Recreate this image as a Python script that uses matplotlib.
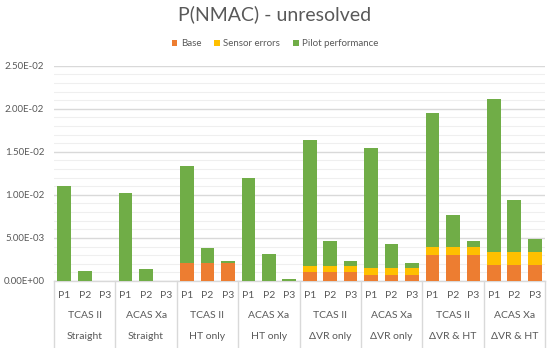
import matplotlib
matplotlib.use("Agg")
import matplotlib.pyplot as plt
from matplotlib.transforms import blended_transform_factory
from matplotlib.ticker import MultipleLocator, FuncFormatter
import numpy as np

plt.rcParams['font.family'] = ['Lato', 'DejaVu Sans']

periods = ["P1", "P2", "P3"]
systems = ["TCAS II", "ACAS Xa", "TCAS II", "ACAS Xa", "TCAS II", "ACAS Xa", "TCAS II", "ACAS Xa"]
scenarios = ["Straight", "Straight", "HT only", "HT only", "ΔVR only", "ΔVR only", "ΔVR & HT", "ΔVR & HT"]

base = [0, 0, 0,
        0, 0, 0,
        2.05e-3, 2.05e-3, 2.05e-3,
        0, 0, 0,
        1.01e-3, 1.01e-3, 1.01e-3,
        0.66e-3, 0.66e-3, 0.66e-3,
        3.06e-3, 3.06e-3, 3.06e-3,
        1.90e-3, 1.90e-3, 1.90e-3]
sensor = [0, 0, 0,
          0, 0, 0,
          0, 0, 0,
          0, 0, 0,
          0.77e-3, 0.77e-3, 0.77e-3,
          0.89e-3, 0.89e-3, 0.89e-3,
          0.85e-3, 0.85e-3, 0.85e-3,
          1.51e-3, 1.51e-3, 1.51e-3]
pilot = [11.08e-3, 1.16e-3, 0,
         10.27e-3, 1.40e-3, 0,
         11.35e-3, 1.82e-3, 0.28e-3,
         11.94e-3, 3.14e-3, 0.27e-3,
         14.58e-3, 2.87e-3, 0.58e-3,
         13.88e-3, 2.75e-3, 0.54e-3,
         15.62e-3, 3.72e-3, 0.70e-3,
         17.71e-3, 6.05e-3, 1.47e-3]

c_base = "#ED7D31"
c_sensor = "#FFC000"
c_pilot = "#70AD47"
txt = "#595959"

fig = plt.figure(figsize=(5.5, 3.48), dpi=100)
W, H = 550, 348
ax = fig.add_axes([54 / W, 1 - 281 / H, (545 - 54) / W, (281 - 65.7) / H])

n = len(base)
x = np.arange(n)
b = np.array(base)
s = np.array(sensor)
p = np.array(pilot)
bw = 0.67
ax.bar(x, b, bw, color=c_base, label="Base", zorder=3)
ax.bar(x, s, bw, bottom=b, color=c_sensor, label="Sensor errors", zorder=3)
ax.bar(x, p, bw, bottom=b + s, color=c_pilot, label="Pilot performance", zorder=3)

ax.set_xlim(-0.5, n - 0.5)
ax.set_ylim(0, 0.025)
ax.yaxis.set_major_locator(MultipleLocator(0.005))
ax.yaxis.set_minor_locator(MultipleLocator(0.001))
ax.yaxis.set_major_formatter(FuncFormatter(lambda v, pos: f"{v:.2E}"))
ax.grid(axis='y', which='major', color='#d9d9d9', linewidth=1.0, zorder=0)
ax.grid(axis='y', which='minor', color='#efefef', linewidth=0.8, zorder=0)
ax.tick_params(axis='y', which='both', length=0, labelsize=7.0, labelcolor=txt, pad=7)
ax.tick_params(axis='x', which='both', length=0, labelbottom=False)
for sp in ['top', 'right', 'left']:
    ax.spines[sp].set_visible(False)
ax.spines['bottom'].set_color('#d9d9d9')
ax.spines['bottom'].set_linewidth(1.0)

trans = blended_transform_factory(ax.transData, fig.transFigure)
for i in range(n):
    ax.text(i, 1 - 295 / H, periods[i % 3], transform=trans, ha='center', va='center',
            fontsize=7.5, color=txt)
for g in range(len(systems)):
    cx = 3 * g + 1
    ax.text(cx, 1 - 315.5 / H, systems[g], transform=trans, ha='center', va='center',
            fontsize=7.5, color=txt)
    ax.text(cx, 1 - 336.5 / H, scenarios[g], transform=trans, ha='center', va='center',
            fontsize=7.5, color=txt)
for g in range(len(systems) + 1):
    xs = 3 * g - 0.5
    ax.plot([xs, xs], [1 - 281 / H, 0], transform=trans, color='#d9d9d9',
            linewidth=1.0, clip_on=False)

fig.text(0.5, 1 - 14.5 / H, "P(NMAC) - unresolved", ha='center', va='center',
         fontsize=14, color=txt)
leg = fig.legend(loc='center', bbox_to_anchor=(0.5, 1 - 44 / H), ncol=3, frameon=False,
                 fontsize=7.0, handlelength=0.6, handleheight=0.6, handletextpad=0.35,
                 columnspacing=1.3)
for t in leg.get_texts():
    t.set_color(txt)

fig.savefig("out.png", dpi=100)
